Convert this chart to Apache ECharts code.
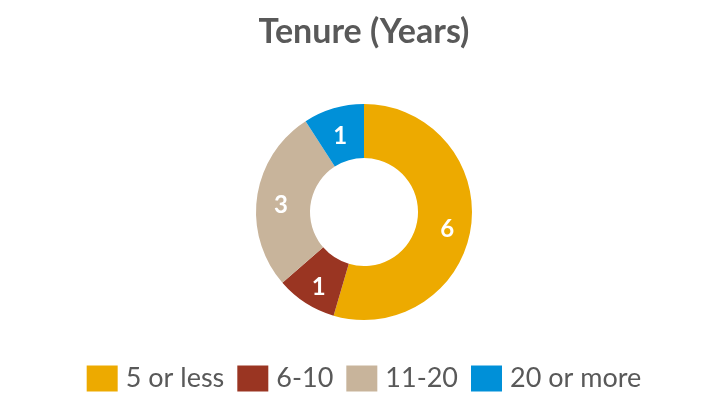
<!DOCTYPE html>
<html><head><meta charset="utf-8">
<script src="https://cdn.jsdelivr.net/npm/echarts@6/dist/echarts.min.js"></script>
<style>html,body{margin:0;padding:0;background:#fff}#c{width:728px;height:400px}</style>
</head><body><div id="c"></div>
<script>
var categories = ['5 or less', '6-10', '11-20', '20 or more'];
var values = [6, 1, 3, 1];
var colors = ['#EDAA00', '#9A3522', '#C8B49B', '#0090D8'];

var chart = echarts.init(document.getElementById('c'), null, {renderer: 'canvas'});
chart.setOption({
  animation: false,
  color: colors,
  title: {
    text: 'Tenure (Years)', left: 'center', top: 10,
    textStyle: {fontFamily: 'Lato', fontWeight: 'bold', fontSize: 34, color: '#595959'}
  },
  legend: {
    data: categories, bottom: 3, left: 'center',
    itemWidth: 31, itemHeight: 26, itemGap: 13, icon: 'rect',
    textStyle: {fontFamily: 'Lato', fontSize: 27, color: '#595959', padding: [0, 0, 0, 3]}
  },
  series: [{
    type: 'pie', center: [364, 212], radius: [54, 108],
    startAngle: 90, clockwise: true, silent: true,
    label: {show: true, position: 'inside', formatter: '{v|{c}}', color: '#fff',
      rich: {v: {color: '#fff', fontFamily: 'Lato', fontWeight: 'bold', fontSize: 24, padding: [10, 0, 0, 0]}}},
    labelLine: {show: false},
    data: categories.map(function (n, i) { return {name: n, value: values[i]}; })
  }]
});
</script></body></html>
